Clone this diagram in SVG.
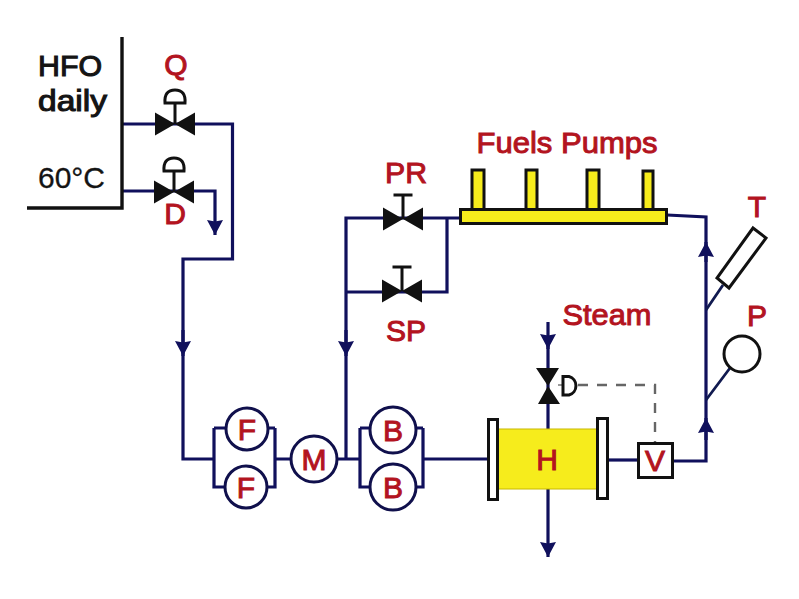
<svg xmlns="http://www.w3.org/2000/svg" width="799" height="599" viewBox="0 0 799 599">
  <style>
    text { font-family: "Liberation Sans", Arial, sans-serif; font-size: 30px; }
    .red { fill: #b3141f; stroke: #b3141f; stroke-width: 1; text-anchor: middle; }
    .blk { fill: #141414; stroke: #141414; stroke-width: 1.1; }
    .pipe { fill: none; stroke: #10105c; stroke-width: 3.2; stroke-linejoin: miter; }
    .tank { fill: none; stroke: #111; stroke-width: 3.4; }
    .part { fill: #fff; stroke: #111; stroke-width: 3; }
    .disc { fill: #fff; stroke: #10104c; stroke-width: 3; }
    .yel { fill: #f6ec1c; stroke: #111; stroke-width: 3; }
    .body { fill: #111; stroke: none; }
    .sig { fill: none; stroke: #666; stroke-width: 2.400; stroke-dasharray: 10 9; }
    .thin { fill: none; stroke: #111; stroke-width: 3; }
  </style>
  <defs>
    <marker id="head" markerUnits="userSpaceOnUse" markerWidth="17" markerHeight="17" refX="15" refY="8" orient="auto">
      <path d="M0 0 L15 8 L0 16 L1.500 8 Z" fill="#10105c"/>
    </marker>
    <!-- horizontal valve body centred on the origin -->
    <path id="bowtie" class="body" d="M-20 -11.500 L0 0 L-20 11.500 Z M20 -11.500 L0 0 L20 11.500 Z"/>
    <g id="dome"><path class="thin" d="M0 0 V-21 M-10 -21 H10 Q11 -34 0 -34 Q-11 -34 -10 -21 Z"/></g>
    <g id="tee"><path class="thin" d="M0 0 V-24 M-9.500 -24 H9.500"/></g>
  </defs>
  <rect width="799" height="599" fill="#fff"/>

  <g id="connectors">
    <path class="pipe" d="M122 124 H232.500 V259 H183 V459 H214"/>
    <path class="pipe" d="M122 191 H215 V235" marker-end="url(#head)"/>
    <path class="pipe" d="M183 330 V356" marker-end="url(#head)"/>
    <path class="pipe" d="M346 459 V218 H460"/>
    <path class="pipe" d="M346 330 V356" marker-end="url(#head)"/>
    <path class="pipe" d="M346 292 H447 V219"/>
    <path class="pipe" d="M275 459 H291 M337 459 H360"/>
    <path class="pipe" d="M214 428 V487 H225 M214 428 H226 M275 428 V487 H267 M275 428 H268"/>
    <path class="pipe" d="M360 428 V487 H370 M360 428 H370 M423 428 V487 H416 M423 428 H416"/>
    <path class="pipe" d="M423 459 H488"/>
    <path class="pipe" d="M667 215 L706 217 V461 H673"/>
    <path class="pipe" d="M706 262 V242" marker-end="url(#head)"/>
    <path class="pipe" d="M706 440 V418" marker-end="url(#head)"/>
    <path class="pipe" d="M608 460 H638"/>
    <path class="pipe" d="M548 322 V349" marker-end="url(#head)"/>
    <path class="pipe" d="M548 345 V429"/>
    <path class="pipe" d="M548 489 V557" marker-end="url(#head)"/>
    <path d="M706 310 L723 285 M706 400 L730 368" fill="none" stroke="#111a50" stroke-width="2.800"/>
    <path class="sig" d="M578 385 H655 V443"/>
    <path d="M558 385 H564" stroke="#777" stroke-width="1.500" fill="none"/>
  </g>

  <g id="tank">
    <path class="tank" d="M122 37 V208 H27"/>
    <text class="blk" x="38" y="76" textLength="64" lengthAdjust="spacingAndGlyphs">HFO</text>
    <text class="blk" x="38" y="111" textLength="69" lengthAdjust="spacingAndGlyphs">daily</text>
    <text class="blk" x="38" y="188" textLength="67" lengthAdjust="spacingAndGlyphs" style="stroke-width:0.300">60°C</text>
  </g>

  <g id="valve-q" transform="translate(175 124)">
    <use href="#bowtie"/><use href="#dome"/>
    <text class="red" x="1" y="-49">Q</text>
  </g>
  <g id="valve-d" transform="translate(174 192)">
    <use href="#bowtie"/><use href="#dome"/>
    <text class="red" x="1" y="32">D</text>
  </g>
  <g id="valve-pr" transform="translate(403 219)">
    <use href="#bowtie"/><use href="#tee"/>
    <text class="red" x="3" y="-36" textLength="42" lengthAdjust="spacingAndGlyphs">PR</text>
  </g>
  <g id="valve-sp" transform="translate(402 291)">
    <use href="#bowtie"/><use href="#tee"/>
    <text class="red" x="4" y="50" textLength="40" lengthAdjust="spacingAndGlyphs">SP</text>
  </g>

  <g id="fuel-pumps">
    <rect class="yel" x="472" y="170" width="12" height="45"/>
    <rect class="yel" x="526" y="170" width="11" height="45"/>
    <rect class="yel" x="587" y="170" width="12" height="45"/>
    <rect class="yel" x="643" y="171" width="10" height="44"/>
    <rect class="yel" x="460.500" y="209.500" width="206" height="14"/>
    <text class="red" x="567" y="153" textLength="181" lengthAdjust="spacingAndGlyphs">Fuels Pumps</text>
  </g>

  <g id="filter-top"><circle class="disc" cx="247" cy="429" r="21"/><text class="red" x="247" y="440">F</text></g>
  <g id="filter-bottom"><circle class="disc" cx="246" cy="487" r="21"/><text class="red" x="246" y="498">F</text></g>
  <g id="meter"><circle class="disc" cx="314" cy="459" r="23"/><text class="red" x="314" y="470">M</text></g>
  <g id="booster-top"><circle class="disc" cx="393" cy="430" r="23"/><text class="red" x="393" y="441">B</text></g>
  <g id="booster-bottom"><circle class="disc" cx="393" cy="487" r="23"/><text class="red" x="393" y="498">B</text></g>

  <g id="heater">
    <rect x="498" y="429" width="99" height="60" fill="#f6ec1c" stroke="#c8b800" stroke-width="1"/>
    <rect class="part" x="488.500" y="419.500" width="9" height="80"/>
    <rect class="part" x="597.500" y="418.500" width="10" height="80"/>
    <text class="red" x="547" y="470">H</text>
  </g>

  <g id="steam-valve">
    <path class="body" d="M536 368 H559 L548 386 Z M538 404 H560 L548 386 Z"/>
    <path class="thin" d="M563 376.500 H569 A9 9.500 0 0 1 569 395 H563 Z"/>
    <text class="red" x="607" y="325" textLength="89" lengthAdjust="spacingAndGlyphs">Steam</text>
  </g>

  <g id="viscosimeter">
    <rect class="part" x="638.500" y="443.500" width="34" height="34"/>
    <text class="red" x="655" y="471">V</text>
  </g>

  <g id="thermometer">
    <path class="part" d="M753 228 L766 238 L729 288 L717 278 Z"/>
    <text class="red" x="757" y="217">T</text>
  </g>
  <g id="manometer">
    <circle class="part" cx="742" cy="354" r="18"/>
    <text class="red" x="757" y="326">P</text>
  </g>
</svg>
